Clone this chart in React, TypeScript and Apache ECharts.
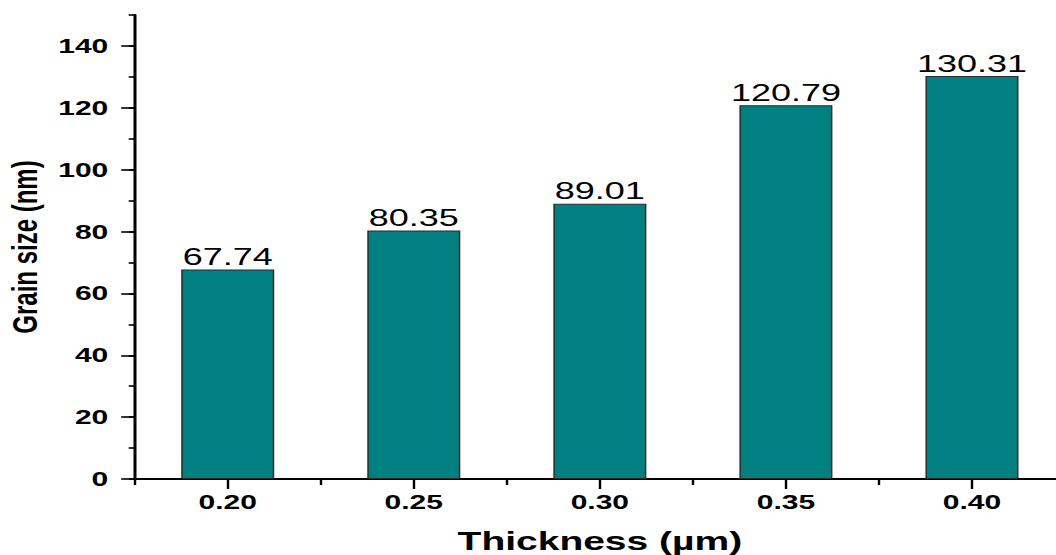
import React, { useEffect, useRef } from "react";
import * as echarts from "echarts";

const categories = ["0.20", "0.25", "0.30", "0.35", "0.40"];
const grainSize = [67.74, 80.35, 89.01, 120.79, 130.31];
const xTitle = "Thickness (µm)";
const yTitle = "Grain size (nm)";

const FONT = 'Arial, "Liberation Sans", Helvetica, sans-serif';
const STRETCH = 1.5;
const W = 1056;
const H = 555;

export default function App() {
  const ref = useRef<HTMLDivElement>(null);
  useEffect(() => {
    if (!ref.current) return;
    const chart = echarts.init(ref.current, null, { renderer: "svg" });
    const axisLineStyle = { color: "#000", width: 2 };
    const tickStyle = { color: "#000", width: 1.6 };
    const option: any = {
      animation: false,
      backgroundColor: "#fff",
      grid: [
        { left: 89.8, right: -6, top: 15, bottom: 76, containLabel: false, outerBoundsMode: "none" },
        { left: 89.8, right: -6, top: 45.93, bottom: 76, containLabel: false, outerBoundsMode: "none" },
      ],
      xAxis: [
        {
          type: "category",
          gridIndex: 0,
          data: categories,
          position: "bottom",
          axisLine: { show: true, lineStyle: axisLineStyle },
          axisTick: { show: true, alignWithLabel: true, length: 10, lineStyle: tickStyle },
          axisLabel: { color: "#000", fontSize: 20, fontWeight: "bold", fontFamily: FONT, margin: 13 },
          name: xTitle,
          nameLocation: "middle",
          nameGap: 49,
          nameTextStyle: { color: "#000", fontSize: 26, fontWeight: "bold", fontFamily: FONT, lineHeight: 26 },
          splitLine: { show: false },
        },
        {
          type: "category",
          gridIndex: 0,
          data: categories,
          position: "bottom",
          axisLine: { show: false },
          axisTick: { show: true, alignWithLabel: false, length: 6, lineStyle: tickStyle },
          axisLabel: { show: false },
          splitLine: { show: false },
        },
        {
          type: "category",
          gridIndex: 1,
          data: categories,
          show: false,
        },
      ],
      yAxis: [
        {
          type: "value",
          gridIndex: 0,
          min: 0,
          max: 150,
          interval: 10,
          axisLine: { show: true, lineStyle: axisLineStyle },
          axisTick: { show: true, length: 4, lineStyle: tickStyle },
          axisLabel: { show: false },
          splitLine: { show: false },
          name: yTitle,
          nameLocation: "middle",
          nameGap: 62,
          nameTextStyle: { color: "#000", fontSize: 24, fontWeight: "bold", fontFamily: FONT },
        },
        {
          type: "value",
          gridIndex: 1,
          min: 0,
          max: 140,
          interval: 20,
          axisLine: { show: false },
          axisTick: { show: true, length: 9, lineStyle: tickStyle },
          axisLabel: { color: "#000", fontSize: 20, fontWeight: "bold", fontFamily: FONT, margin: 17.6 },
          splitLine: { show: false },
        },
      ],
      series: [
        {
          type: "bar",
          xAxisIndex: 0,
          yAxisIndex: 0,
          data: grainSize,
          barWidth: "50%",
          itemStyle: { color: "#008080", borderColor: "#2b2b2b", borderWidth: 1 },
          label: {
            show: true,
            position: "top",
            distance: 1,
            color: "#000",
            fontSize: 24,
            fontFamily: FONT,
            formatter: (p: any) => Number(p.value).toFixed(2),
          },
        },
      ],
    };
    chart.setOption(option);
    return () => chart.dispose();
  }, []);

  return (
    <div
      style={{
        position: "absolute",
        left: 0,
        top: 0,
        width: W,
        height: H,
        overflow: "hidden",
        background: "#fff",
      }}
    >
      <div
        ref={ref}
        style={{
          width: W / STRETCH,
          height: H,
          transform: `scaleX(${STRETCH})`,
          transformOrigin: "0 0",
        }}
      />
    </div>
  );
}
